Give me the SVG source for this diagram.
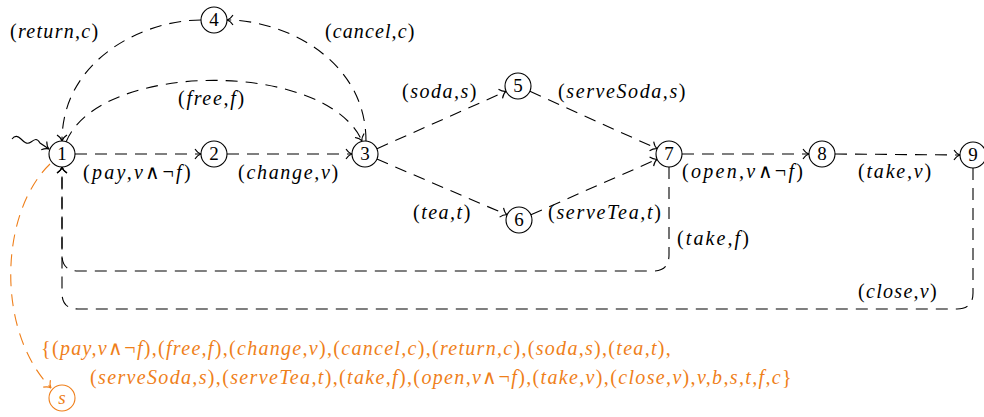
<svg xmlns="http://www.w3.org/2000/svg" width="984" height="417" viewBox="0 0 984 417">
<style>
.edge{fill:none;stroke:#000;stroke-width:1.1;stroke-dasharray:12 8}
.or{stroke:#ef7f1a}
.node circle{fill:#fff;stroke:#000;stroke-width:1.1}
.u{font-style:normal}
</style>
<defs>
<marker id="ar" markerUnits="userSpaceOnUse" viewBox="-8 -6 10 12" markerWidth="10" markerHeight="12" refX="0" refY="0" orient="auto">
<path d="M-6,-5 C-4,-2 -2,-0.5 0,0 C-2,0.5 -4,2 -6,5" fill="none" stroke="#000" stroke-width="1.1"/>
</marker>
<marker id="aro" markerUnits="userSpaceOnUse" viewBox="-8 -6 10 12" markerWidth="10" markerHeight="12" refX="0" refY="0" orient="auto">
<path d="M-6,-5 C-4,-2 -2,-0.5 0,0 C-2,0.5 -4,2 -6,5" fill="none" stroke="#ef7f1a" stroke-width="1.1"/>
</marker>
</defs>
<g id="connectors">
<path d="M12,139 C15,135 18,136 21,139 S27,145 31,142 S37,138 40,143 L49,149" fill="none" stroke="#000" stroke-width="1.1" marker-end="url(#ar)"/>
<path class="edge" d="M75,154 L201,154" marker-end="url(#ar)"/>
<path class="edge" d="M227,154 L352,154" marker-end="url(#ar)"/>
<path class="edge" d="M66,142 C100,60 326,60 362,141" marker-end="url(#ar)"/>
<path class="edge" d="M366,141 C366,60 285,20 227,20" marker-end="url(#ar)"/>
<path class="edge" d="M201,20 C143,20 62,60 62,141" marker-end="url(#ar)"/>
<path class="edge" d="M377,148.7 L506,91.3" marker-end="url(#ar)"/>
<path class="edge" d="M529.9,91.3 L657.1,148.7" marker-end="url(#ar)"/>
<path class="edge" d="M376.9,159.1 L507.1,214.9" marker-end="url(#ar)"/>
<path class="edge" d="M530.9,214.8 L657.1,159.2" marker-end="url(#ar)"/>
<path class="edge" d="M682,154 L809,154" marker-end="url(#ar)"/>
<path class="edge" d="M835,154 L960,155" marker-end="url(#ar)"/>
<path class="edge" d="M669,167 L669,255 Q669,271 653,271 L78,271 Q62,271 62,255 L62,167" marker-end="url(#ar)"/>
<path class="edge" d="M973,168 L973,293 Q973,309 957,309 L78,309 Q62,309 62,293 L62,167" marker-end="url(#ar)"/>
<path class="edge or" d="M50,164 C0,212 -5,330 51,388" marker-end="url(#aro)"/>
</g>
<g id="labels">
<text style="font-family:'Liberation Serif',serif;font-size:20px;font-style:italic;letter-spacing:1.3px" x="10" y="38"><tspan class="u">(</tspan>return,c<tspan class="u">)</tspan></text>
<text style="font-family:'Liberation Serif',serif;font-size:20px;font-style:italic;letter-spacing:1.1px" x="325" y="38"><tspan class="u">(</tspan>cancel,c<tspan class="u">)</tspan></text>
<text style="font-family:'Liberation Serif',serif;font-size:20px;font-style:italic;letter-spacing:1.7px" x="178" y="105"><tspan class="u">(</tspan>free,f<tspan class="u">)</tspan></text>
<text style="font-family:'Liberation Serif',serif;font-size:20px;font-style:italic;letter-spacing:2.3px" x="83" y="179"><tspan class="u">(</tspan>pay,v<tspan class="u">∧¬</tspan>f<tspan class="u">)</tspan></text>
<text style="font-family:'Liberation Serif',serif;font-size:20px;font-style:italic;letter-spacing:1.7px" x="238" y="179"><tspan class="u">(</tspan>change,v<tspan class="u">)</tspan></text>
<text style="font-family:'Liberation Serif',serif;font-size:20px;font-style:italic;letter-spacing:1.5px" x="402" y="98"><tspan class="u">(</tspan>soda,s<tspan class="u">)</tspan></text>
<text style="font-family:'Liberation Serif',serif;font-size:20px;font-style:italic;letter-spacing:1.6px" x="558" y="98"><tspan class="u">(</tspan>serveSoda,s<tspan class="u">)</tspan></text>
<text style="font-family:'Liberation Serif',serif;font-size:20px;font-style:italic;letter-spacing:1.5px" x="413" y="219"><tspan class="u">(</tspan>tea,t<tspan class="u">)</tspan></text>
<text style="font-family:'Liberation Serif',serif;font-size:20px;font-style:italic;letter-spacing:1.7px" x="548" y="219"><tspan class="u">(</tspan>serveTea,t<tspan class="u">)</tspan></text>
<text style="font-family:'Liberation Serif',serif;font-size:20px;font-style:italic;letter-spacing:2.3px" x="682" y="178"><tspan class="u">(</tspan>open,v<tspan class="u">∧¬</tspan>f<tspan class="u">)</tspan></text>
<text style="font-family:'Liberation Serif',serif;font-size:20px;font-style:italic;letter-spacing:1.8px" x="858" y="178"><tspan class="u">(</tspan>take,v<tspan class="u">)</tspan></text>
<text style="font-family:'Liberation Serif',serif;font-size:20px;font-style:italic;letter-spacing:2.1px" x="677" y="245"><tspan class="u">(</tspan>take,f<tspan class="u">)</tspan></text>
<text style="font-family:'Liberation Serif',serif;font-size:20px;font-style:italic;letter-spacing:1.3px" x="858" y="298"><tspan class="u">(</tspan>close,v<tspan class="u">)</tspan></text>
<text style="font-family:'Liberation Serif',serif;font-size:20px;font-style:italic;letter-spacing:1.3px;fill:#ef7f1a" x="41" y="355"><tspan class="u">{(</tspan>pay,v<tspan class="u">∧¬</tspan>f<tspan class="u">),(</tspan>free,f<tspan class="u">),(</tspan>change,v<tspan class="u">),(</tspan>cancel,c<tspan class="u">),(</tspan>return,c<tspan class="u">),(</tspan>soda,s<tspan class="u">),(</tspan>tea,t<tspan class="u">),</tspan></text>
<text style="font-family:'Liberation Serif',serif;font-size:20px;font-style:italic;letter-spacing:1.35px;fill:#ef7f1a" x="90" y="384"><tspan class="u">(</tspan>serveSoda,s<tspan class="u">),(</tspan>serveTea,t<tspan class="u">),(</tspan>take,f<tspan class="u">),(</tspan>open,v<tspan class="u">∧¬</tspan>f<tspan class="u">),(</tspan>take,v<tspan class="u">),(</tspan>close,v<tspan class="u">),</tspan>v,b,s,t,f,c<tspan class="u">}</tspan></text>
</g>
<g id="n1" class="node"><circle cx="62" cy="154" r="13"/><text style="font-family:'Liberation Serif',serif;font-size:19px;text-anchor:middle" x="62" y="160">1</text></g>
<g id="n2" class="node"><circle cx="214" cy="154" r="13"/><text style="font-family:'Liberation Serif',serif;font-size:19px;text-anchor:middle" x="214" y="160">2</text></g>
<g id="n3" class="node"><circle cx="365" cy="154" r="13"/><text style="font-family:'Liberation Serif',serif;font-size:19px;text-anchor:middle" x="365" y="160">3</text></g>
<g id="n4" class="node"><circle cx="214" cy="20" r="13"/><text style="font-family:'Liberation Serif',serif;font-size:19px;text-anchor:middle" x="214" y="26">4</text></g>
<g id="n5" class="node"><circle cx="518" cy="86" r="13"/><text style="font-family:'Liberation Serif',serif;font-size:19px;text-anchor:middle" x="518" y="92">5</text></g>
<g id="n6" class="node"><circle cx="519" cy="220" r="13"/><text style="font-family:'Liberation Serif',serif;font-size:19px;text-anchor:middle" x="519" y="226">6</text></g>
<g id="n7" class="node"><circle cx="669" cy="154" r="13"/><text style="font-family:'Liberation Serif',serif;font-size:19px;text-anchor:middle" x="669" y="160">7</text></g>
<g id="n8" class="node"><circle cx="822" cy="154" r="13"/><text style="font-family:'Liberation Serif',serif;font-size:19px;text-anchor:middle" x="822" y="160">8</text></g>
<g id="n9" class="node"><circle cx="973" cy="155" r="13"/><text style="font-family:'Liberation Serif',serif;font-size:19px;text-anchor:middle" x="973" y="161">9</text></g>
<g id="ns" class="node"><circle cx="62" cy="398" r="13" style="stroke:#ef7f1a"/><text style="font-family:'Liberation Serif',serif;font-size:19px;text-anchor:middle;font-style:italic;fill:#ef7f1a" x="62" y="404">s</text></g>
</svg>
